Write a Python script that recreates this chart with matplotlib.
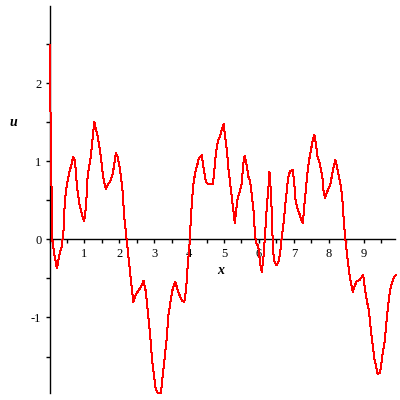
import matplotlib
matplotlib.use("Agg")
import matplotlib.pyplot as plt
from matplotlib.ticker import MultipleLocator, FixedLocator

# points
x_vals = [0.00, 0.03, 0.06, 0.08, 0.14, 0.21, 0.25, 0.30, 0.35, 0.40,
          0.42, 0.46, 0.51, 0.56, 0.62, 0.68, 0.73, 0.76, 0.80, 0.85,
          0.92, 0.99, 1.02, 1.05, 1.08, 1.13, 1.18, 1.23, 1.28, 1.31,
          1.36, 1.42, 1.47, 1.51, 1.56, 1.61, 1.67, 1.73, 1.80, 1.85,
          1.90, 1.95, 2.02, 2.09, 2.14, 2.21, 2.28, 2.34, 2.40, 2.47,
          2.55, 2.62, 2.69, 2.76, 2.81, 2.88, 2.93, 2.99, 3.04, 3.10,
          3.19, 3.23, 3.29, 3.36, 3.40, 3.47, 3.53, 3.60, 3.66, 3.72,
          3.79, 3.86, 3.91, 3.96, 4.02, 4.05, 4.11, 4.17, 4.23, 4.28,
          4.36, 4.41, 4.46, 4.50, 4.60, 4.68, 4.72, 4.77, 4.82, 4.88,
          4.93, 4.99, 5.03, 5.09, 5.13, 5.18, 5.23, 5.28, 5.31, 5.34,
          5.39, 5.45, 5.51, 5.55, 5.59, 5.64, 5.70, 5.75, 5.80, 5.85,
          5.89, 5.93, 5.98, 6.03, 6.08, 6.13, 6.17, 6.22, 6.27, 6.30,
          6.34, 6.38, 6.40, 6.45, 6.50, 6.56, 6.60, 6.65, 6.70, 6.75,
          6.80, 6.84, 6.89, 6.97, 7.01, 7.05, 7.10, 7.16, 7.21, 7.26,
          7.29, 7.34, 7.39, 7.44, 7.49, 7.54, 7.59, 7.63, 7.68, 7.73,
          7.78, 7.83, 7.85, 7.89, 7.94, 7.99, 8.06, 8.09, 8.14, 8.19,
          8.23, 8.27, 8.32, 8.36, 8.40, 8.43, 8.47, 8.50, 8.55, 8.59,
          8.64, 8.69, 8.73, 8.80, 8.88, 8.95, 8.99, 9.03, 9.09, 9.15,
          9.20, 9.24, 9.28, 9.31, 9.36, 9.40, 9.47, 9.52, 9.56, 9.61,
          9.66, 9.71, 9.76, 9.81, 9.87, 9.93]
u_vals = [2.49, 1.49, 0.50, -0.01, -0.20, -0.37, -0.27, -0.16, -0.09, 0.12,
          0.35, 0.59, 0.74, 0.85, 0.95, 1.06, 1.00, 0.80, 0.63, 0.46,
          0.33, 0.23, 0.33, 0.46, 0.76, 0.93, 1.06, 1.29, 1.51, 1.44,
          1.36, 1.21, 1.06, 0.89, 0.74, 0.65, 0.70, 0.74, 0.82, 0.95,
          1.11, 1.06, 0.89, 0.63, 0.29, -0.01, -0.31, -0.56, -0.80, -0.71,
          -0.65, -0.61, -0.53, -0.67, -0.91, -1.21, -1.51, -1.74, -1.91, -1.97,
          -1.97, -1.80, -1.55, -1.25, -0.99, -0.78, -0.63, -0.54, -0.63, -0.71,
          -0.78, -0.80, -0.65, -0.33, -0.01, 0.29, 0.67, 0.85, 0.95, 1.04,
          1.08, 0.93, 0.78, 0.72, 0.71, 0.71, 0.87, 1.12, 1.25, 1.32,
          1.40, 1.48, 1.32, 1.10, 0.89, 0.70, 0.50, 0.33, 0.21, 0.35,
          0.53, 0.61, 0.72, 0.97, 1.07, 0.97, 0.80, 0.74, 0.55, 0.35,
          0.03, -0.05, -0.09, -0.29, -0.42, -0.22, 0.03, 0.38, 0.65, 0.87,
          0.63, 0.21, -0.14, -0.29, -0.33, -0.29, -0.20, 0.01, 0.18, 0.42,
          0.63, 0.80, 0.87, 0.89, 0.74, 0.50, 0.40, 0.33, 0.26, 0.21,
          0.38, 0.61, 0.85, 1.02, 1.14, 1.27, 1.34, 1.23, 1.06, 1.00,
          0.89, 0.76, 0.63, 0.53, 0.59, 0.65, 0.72, 0.82, 0.93, 1.02,
          0.95, 0.85, 0.74, 0.65, 0.46, 0.25, 0.03, -0.09, -0.29, -0.44,
          -0.56, -0.67, -0.61, -0.54, -0.52, -0.48, -0.46, -0.61, -0.78, -0.91,
          -1.12, -1.29, -1.42, -1.53, -1.63, -1.72, -1.71, -1.55, -1.42, -1.29,
          -1.03, -0.82, -0.65, -0.56, -0.48, -0.46]

x_ticks = [1, 2, 3, 4, 5, 6, 7, 8, 9]
y_ticks = [-1, 0, 1, 2]

plt.rcParams['font.family'] = ['Liberation Serif', 'DejaVu Serif']
plt.rcParams['axes.unicode_minus'] = False

fig = plt.figure(figsize=(4, 4), dpi=100)
ax = fig.add_axes([0.124, 0.017, 0.8635, 0.968])

ax.plot(x_vals, u_vals, color='red', lw=0.72, zorder=3, clip_on=False,
        antialiased=False)

ax.set_xlim(0, 9.9)
ax.set_ylim(-1.97, 2.99)

ax.spines['right'].set_visible(False)
ax.spines['top'].set_visible(False)
ax.spines['bottom'].set_position(('data', 0))
ax.spines['left'].set_position(('data', 0))
for s in ('left', 'bottom'):
    ax.spines[s].set_linewidth(1.0)

ax.xaxis.set_major_locator(FixedLocator(x_ticks))
ax.xaxis.set_minor_locator(MultipleLocator(0.5))
ax.yaxis.set_major_locator(FixedLocator(y_ticks))
ax.yaxis.set_minor_locator(MultipleLocator(0.5))
ax.tick_params(which='both', direction='out', length=3, width=1.0,
               labelsize=9, pad=3)

fig.text(13 / 400, 1 - 123 / 400, 'u', fontsize=10, fontweight='bold',
         fontstyle='italic', ha='center', va='center')
fig.text(221 / 400, 1 - 270 / 400, 'x', fontsize=10, fontweight='bold',
         fontstyle='italic', ha='center', va='center')

fig.savefig('out.png', dpi=100)
